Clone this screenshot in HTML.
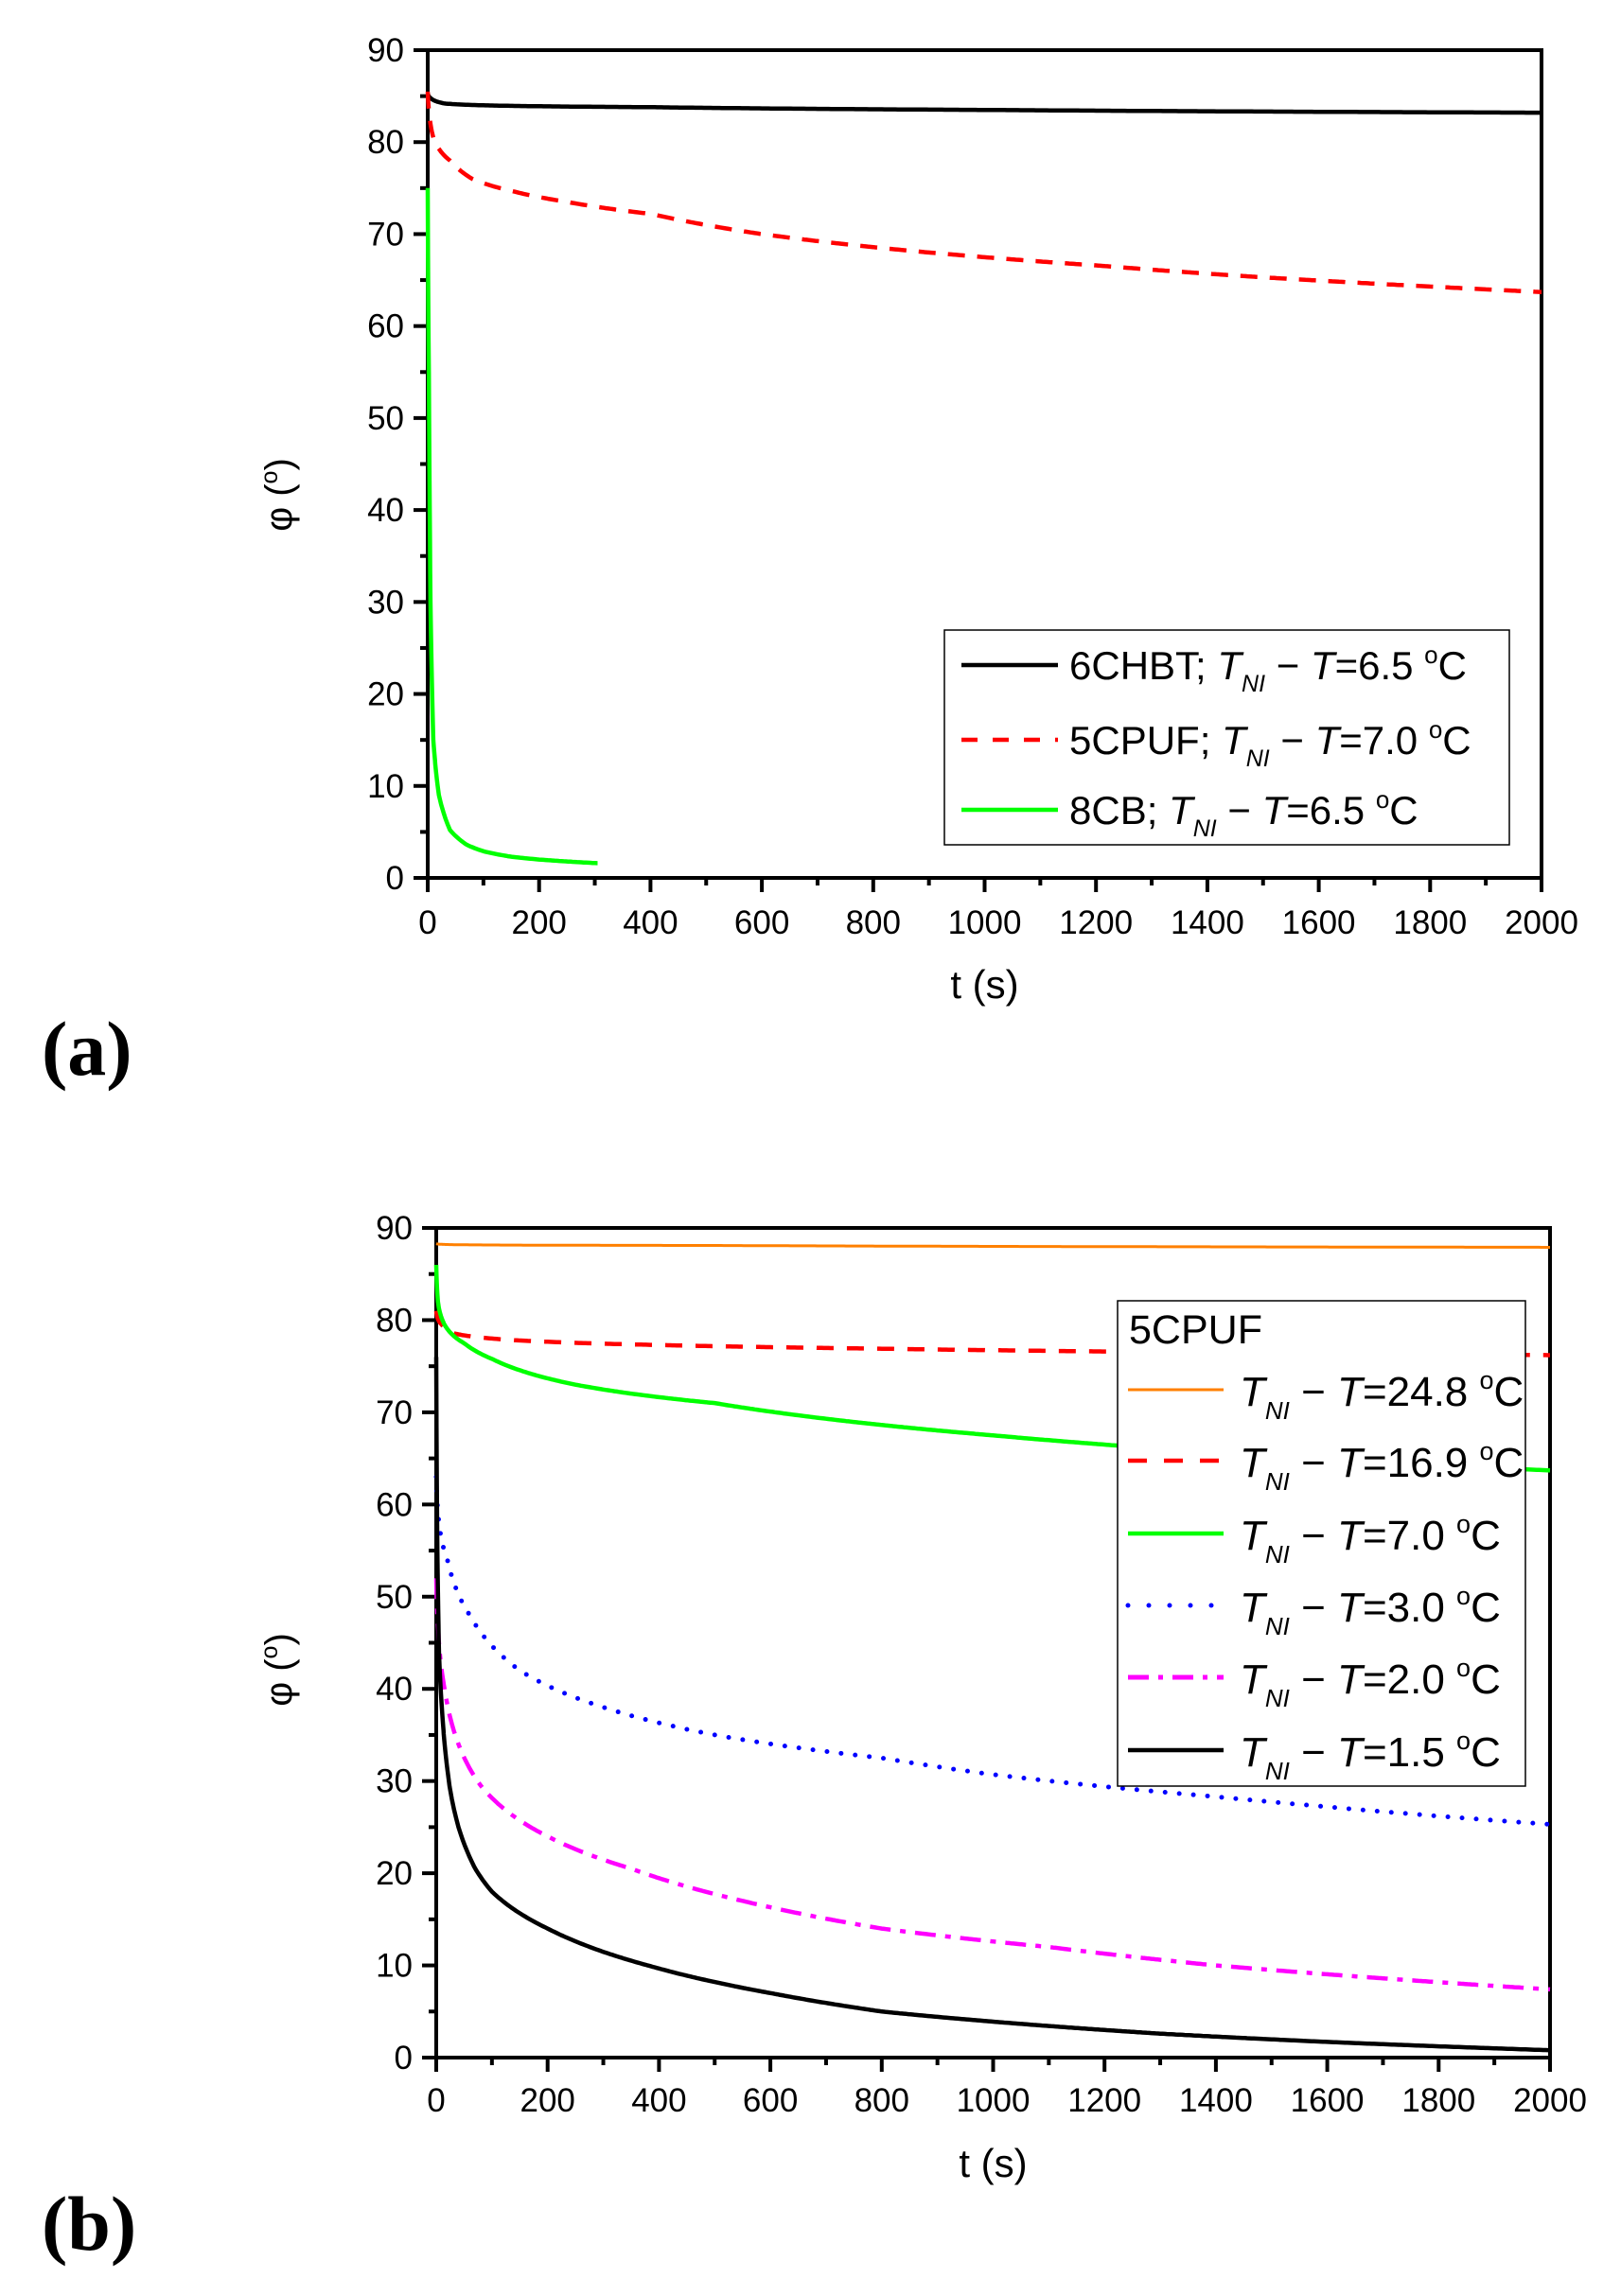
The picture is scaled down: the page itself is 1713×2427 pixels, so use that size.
<!DOCTYPE html>
<html><head><meta charset="utf-8"><style>
html,body{margin:0;padding:0;background:#fff;}
svg{display:block;}
text{font-family:"Liberation Sans",sans-serif;fill:#000;}
</style></head><body>
<svg id="s" width="1713" height="2427" viewBox="0 0 1713 2427" xmlns="http://www.w3.org/2000/svg">
<g id="g"></g>
<!-- Legend A -->
<rect x="998" y="666" width="597" height="227" fill="#fff" stroke="#000" stroke-width="1.5"/>
<line x1="1016" y1="703" x2="1118" y2="703" stroke="#000" stroke-width="4.5"/>
<line x1="1016" y1="782" x2="1118" y2="782" stroke="#f00" stroke-width="4.5" stroke-dasharray="17,16"/>
<line x1="1016" y1="856" x2="1118" y2="856" stroke="#0f0" stroke-width="4.5"/>
<text x="1130" y="718" font-size="42">6CHBT; <tspan font-style="italic">T</tspan><tspan font-size="25" font-style="italic" dy="13">NI</tspan><tspan dy="-13"> − </tspan><tspan font-style="italic">T</tspan>=6.5 <tspan font-size="26" dy="-17">o</tspan><tspan dy="17">C</tspan></text>
<text x="1130" y="797" font-size="42">5CPUF; <tspan font-style="italic">T</tspan><tspan font-size="25" font-style="italic" dy="13">NI</tspan><tspan dy="-13"> − </tspan><tspan font-style="italic">T</tspan>=7.0 <tspan font-size="26" dy="-17">o</tspan><tspan dy="17">C</tspan></text>
<text x="1130" y="871" font-size="42">8CB; <tspan font-style="italic">T</tspan><tspan font-size="25" font-style="italic" dy="13">NI</tspan><tspan dy="-13"> − </tspan><tspan font-style="italic">T</tspan>=6.5 <tspan font-size="26" dy="-17">o</tspan><tspan dy="17">C</tspan></text>
<!-- Legend B -->
<rect x="1181" y="1375" width="431" height="513" fill="#fff" stroke="#000" stroke-width="1.5"/>
<text x="1193" y="1420" font-size="43">5CPUF</text>
<g id="lb"></g>
<text x="44" y="1136" font-size="82" font-weight="bold" style="font-family:'Liberation Serif',serif">(a)</text>
<text x="44" y="2378" font-size="82" font-weight="bold" style="font-family:'Liberation Serif',serif">(b)</text>
</svg>
<script>
var NS="http://www.w3.org/2000/svg";
function el(parent,tag,attrs,txt){var e=document.createElementNS(NS,tag);for(var k in attrs)e.setAttribute(k,attrs[k]);if(txt!==undefined)e.textContent=txt;(typeof parent==="string"?document.getElementById(parent):parent).appendChild(e);return e;}
var g=document.getElementById("g");
function axes(x0,x1,y0,y1,labY,tY,phiY){
  var sx=(x1-x0)/2000, sy=(y0-y1)/90;
  el(g,"rect",{x:x0,y:y1,width:x1-x0,height:y0-y1,fill:"none",stroke:"#000","stroke-width":4});
  for(var v=0;v<=90;v+=5){var y=y0-v*sy;var maj=v%10==0;el(g,"line",{x1:x0-(maj?15:8),y1:y,x2:x0,y2:y,stroke:"#000","stroke-width":4});
    if(maj)el(g,"text",{x:x0-25,y:y+12,"font-size":35,"text-anchor":"end"},""+v);}
  for(var t=0;t<=2000;t+=100){var x=x0+t*sx;var maj=t%200==0;el(g,"line",{x1:x,y1:y0,x2:x,y2:y0+(maj?15:8),stroke:"#000","stroke-width":4});
    if(maj)el(g,"text",{x:x,y:labY,"font-size":35,"text-anchor":"middle"},""+t);}
  el(g,"text",{x:(x0+x1)/2,y:tY,"font-size":42,"text-anchor":"middle"},"t (s)");
  var p=el(g,"text",{x:0,y:0,"font-size":40,"text-anchor":"middle",transform:"translate(308,"+phiY+") rotate(-90)"});
  p.innerHTML='φ (<tspan font-size="25" dy="-15">o</tspan><tspan dy="15">)</tspan>';
  return {x:function(t){return x0+t*sx},y:function(v){return y0-v*sy}};
}
function L(t){return Math.log(t+1);}
function interp(pts,t){var u=L(t);for(var i=1;i<pts.length;i++){if(t<=pts[i][0]){var a=pts[i-1],b=pts[i];var f=(u-L(a[0]))/(L(b[0])-L(a[0]));return a[1]+f*(b[1]-a[1]);}}return pts[pts.length-1][1];}
function curve(A,pts,style){
  var tmax=pts[pts.length-1][0],d="";var ts=[];
  for(var t=0;t<20;t+=0.5)ts.push(t);for(var t=20;t<=tmax;t+=4)ts.push(t);ts.push(tmax);
  ts.forEach(function(t,i){if(t>tmax)return;var x=A.x(t),y=A.y(interp(pts,t));d+=(i?"L":"M")+x.toFixed(1)+","+y.toFixed(1);});
  var a={d:d,fill:"none","stroke-linejoin":"round"};for(var k in style)a[k]=style[k];el(g,"path",a);
}
var A=axes(452,1629,928,53,987,1055,523);
curve(A,[[0,85.3],[5,84.8],[30,84.2],[100,84],[400,83.8],[1000,83.5],[2000,83.2]],{stroke:"#000","stroke-width":4.5});
curve(A,[[0,85.5],[3,83],[10,80.5],[40,78],[80,76],[150,74.7],[250,73.5],[400,72.2],[600,70],[900,68],[1200,66.6],[1500,65.3],[1800,64.3],[2000,63.7]],{stroke:"#f00","stroke-width":4.5,"stroke-dasharray":"18,13"});
curve(A,[[0,75],[2,55],[5,30],[10,15],[20,9],[40,5.2],[70,3.6],[100,2.9],[150,2.3],[200,2],[305,1.6]],{stroke:"#0f0","stroke-width":4.5});
var B=axes(461,1638,2175,1298,2232,2301,1765);
curve(B,[[0,88.3],[500,88.1],[2000,87.9]],{stroke:"#ff8000","stroke-width":3});
curve(B,[[0,81],[10,79.5],[30,78.6],[100,78],[400,77.3],[800,76.9],[1200,76.6],[2000,76.2]],{stroke:"#f00","stroke-width":4.5,"stroke-dasharray":"18,14"});
curve(B,[[0,86],[3,82],[15,79.5],[50,77.5],[100,75.8],[250,73],[500,71],[700,69.3],[1000,67.5],[1200,66.5],[1700,64.5],[2000,63.7]],{stroke:"#0f0","stroke-width":4.5});
curve(B,[[0,63],[5,58],[20,54],[60,48],[150,42],[300,38],[500,35],[800,32.5],[1000,30.7],[1400,28.3],[1600,27.2],[2000,25.3]],{stroke:"#00f","stroke-width":5,"stroke-dasharray":"0,15","stroke-linecap":"round"});
curve(B,[[0,52],[3,47],[15,40],[40,34],[80,29.5],[200,24],[350,20.5],[550,17],[800,14],[1100,12],[1400,10],[1700,8.6],[2000,7.4]],{stroke:"#f0f","stroke-width":4.5,"stroke-dasharray":"22,10,6,10"});
curve(B,[[0,76],[2,55],[5,44],[10,38],[25,29],[40,25],[70,20.5],[100,18],[200,14],[380,10],[600,7],[800,5],[1000,3.9],[1300,2.6],[1600,1.7],[2000,0.8]],{stroke:"#000","stroke-width":4.5});
var rows=[["24.8",{stroke:"#ff8000","stroke-width":3}],["16.9",{stroke:"#f00","stroke-width":4.5,"stroke-dasharray":"20,18"}],["7.0",{stroke:"#0f0","stroke-width":4.5}],["3.0",{stroke:"#00f","stroke-width":5,"stroke-dasharray":"0,22","stroke-linecap":"round"}],["2.0",{stroke:"#f0f","stroke-width":5,"stroke-dasharray":"22,10,5,10"}],["1.5",{stroke:"#000","stroke-width":4.5}]];
var ys=[1469,1544,1621,1697,1773,1850];
var lb=document.getElementById("lb");
rows.forEach(function(r,i){var y=ys[i];var a={x1:1192,y1:y,x2:1293,y2:y};for(var k in r[1])a[k]=r[1][k];el(lb,"line",a);
  var t=el(lb,"text",{x:1310,y:y+17,"font-size":44});
  t.innerHTML='<tspan font-style="italic">T</tspan><tspan font-size="26" font-style="italic" dy="14">NI</tspan><tspan dy="-14"> − </tspan><tspan font-style="italic">T</tspan>='+r[0]+' <tspan font-size="27" dy="-18">o</tspan><tspan dy="18">C</tspan>';});
</script>
</body></html>
